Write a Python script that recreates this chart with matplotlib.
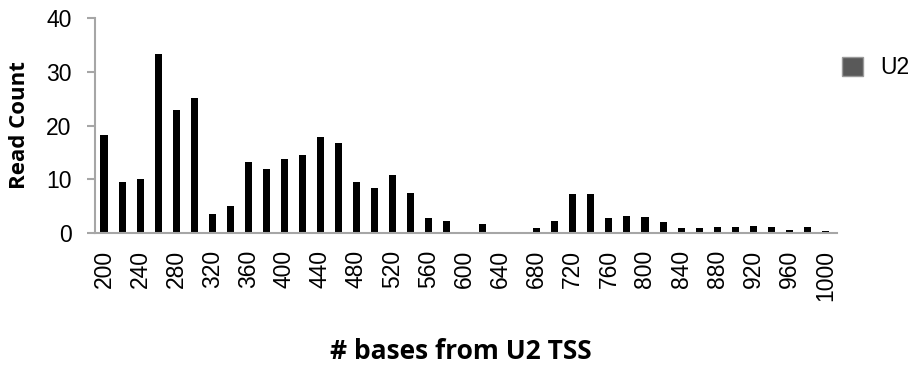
import numpy as np
import matplotlib
matplotlib.use('Agg')
from matplotlib import pyplot as plt, rcParams
from matplotlib.patches import Patch

rcParams.update({'font.family': ['Liberation Sans', 'DejaVu Sans'], 'font.size': 16.5})

positions = list(range(200, 1001, 20))
read_count = [18.3, 9.5, 10.0, 33.3, 22.9, 25.1, 3.5, 5.1, 13.2, 11.9,
              13.7, 14.5, 17.9, 16.8, 9.5, 8.3, 10.8, 7.5, 2.8, 2.3,
              0.2, 1.7, 0.0, 0.0, 0.9, 2.3, 7.2, 7.2, 2.8, 3.1,
              2.9, 2.0, 0.9, 0.9, 1.1, 1.1, 1.3, 1.1, 0.5, 1.1, 0.3]
tick_labels = [str(p) for p in positions[::2]]

axis_color = '#a6a6a6'

fig = plt.figure(figsize=(9.16, 3.69), dpi=100)
ax = fig.add_axes((0.1037, 0.3686, 0.8101, 0.5824))

x = np.arange(len(positions))
ax.bar(x, read_count, width=0.39, color='black', label='U2')

ax.set_xlim(-0.5, len(positions) - 0.35)
ax.set_ylim(0, 40)
ax.set_yticks([0, 10, 20, 30, 40])
ax.set_xticks(x[::2])
ax.set_xticklabels(tick_labels, rotation=90, va='top')

for s in ('top', 'right'):
    ax.spines[s].set_visible(False)
for s in ('left', 'bottom'):
    ax.spines[s].set_color(axis_color)
    ax.spines[s].set_linewidth(1.5)
ax.tick_params(axis='y', length=6, width=1.5, color=axis_color, pad=11)
ax.tick_params(axis='x', length=0, pad=12)

ax.set_ylabel('Read Count', family=['Open Sans', 'DejaVu Sans'],
              fontweight='bold', fontsize=16)
ax.yaxis.set_label_coords(-0.088, 0.5)
ax.set_xlabel('# bases from U2 TSS', family=['Open Sans', 'DejaVu Sans'],
              fontweight='bold', fontsize=19)
ax.xaxis.set_label_coords(0.493, -0.49)

handle = Patch(facecolor='#595959', edgecolor='#9a9a9a', label='U2')
fig.legend(handles=[handle], loc='center left', bbox_to_anchor=(0.919, 0.816),
           frameon=False, borderpad=0, borderaxespad=0,
           handlelength=0.92, handleheight=0.92, handletextpad=0.74,
           fontsize=16.5)

fig.savefig('out.png', dpi=100)
